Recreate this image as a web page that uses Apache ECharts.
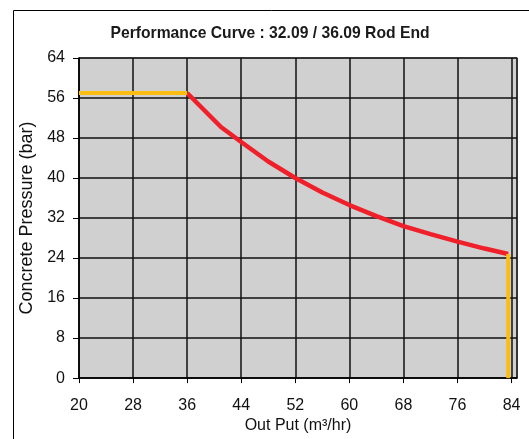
<!DOCTYPE html>
<html><head><meta charset="utf-8">
<script src="https://cdn.jsdelivr.net/npm/echarts@6/dist/echarts.min.js"></script>
<style>html,body{margin:0;padding:0;background:#fff}#c{width:529px;height:439px}</style>
</head><body><div id="c"></div>
<script>
const titleText = 'Performance Curve : 32.09 / 36.09 Rod End';
const xName = 'Out Put (m³/hr)';
const yName = 'Concrete Pressure (bar)';
const curveX = [36, 41, 44, 48, 52, 56, 60, 64, 68, 72, 76, 80, 83.5];
const curveY = [57, 50.2, 47.2, 43.3, 40, 37.1, 34.6, 32.4, 30.4, 28.8, 27.3, 25.9, 24.8];
const limitTopX = [20, 36];
const limitTopY = [57, 57];
const limitRightX = [83.5, 83.5];
const limitRightY = [24.8, 0];

const pairs = (xs, ys) => xs.map((x, i) => [x, ys[i]]);
const chart = echarts.init(document.getElementById('c'), null, {renderer: 'canvas'});
const font = 'Liberation Sans, Arial, sans-serif';
chart.setOption({
  animation: false,
  backgroundColor: '#fff',
  graphic: [{type: 'rect', shape: {x: 13.5, y: 10.5, width: 600, height: 600}, style: {fill: 'none', stroke: '#000', lineWidth: 1}, z: -1}],
  title: {text: titleText, left: 265, top: 21, textAlign: 'center',
    textStyle: {fontFamily: font, fontSize: 15.7, fontWeight: 'bold', color: '#1a1a1a'}},
  grid: {left: 79, top: 58, right: 12, bottom: 58, show: true, backgroundColor: '#d0d0d0', borderColor: '#8a8a8a', borderWidth: 1.5},
  xAxis: {type: 'value', min: 20, max: 84.8, interval: 8,
    name: xName, nameLocation: 'middle', nameGap: 33,
    nameTextStyle: {fontFamily: font, fontSize: 16, color: '#111'},
    axisLine: {show: true, lineStyle: {color: '#000', width: 1.5}},
    axisTick: {show: true, length: 5, lineStyle: {color: '#000'}},
    axisLabel: {fontFamily: font, fontSize: 16, color: '#111', margin: 19, showMaxLabel: false,
      formatter: v => (v % 4 === 0) ? String(v) : ''},
    splitLine: {show: true, lineStyle: {color: '#111', width: 1.5}}},
  yAxis: {type: 'value', min: 0, max: 64, interval: 8,
    name: yName, nameLocation: 'middle', nameGap: 34,
    nameTextStyle: {fontFamily: font, fontSize: 18, color: '#111'},
    axisLine: {show: true, lineStyle: {color: '#000', width: 1.5}},
    axisTick: {show: true, length: 6, lineStyle: {color: '#000'}},
    axisLabel: {fontFamily: font, fontSize: 16, color: '#111', margin: 14},
    splitLine: {show: true, lineStyle: {color: '#111', width: 1.5}}},
  series: [
    {type: 'line', data: pairs(curveX, curveY), symbol: 'none', lineStyle: {color: '#f0202a', width: 4.5}, z: 3},
    {type: 'line', data: pairs(limitTopX, limitTopY), symbol: 'none', lineStyle: {color: '#fbbd12', width: 4}, z: 4},
    {type: 'line', data: pairs(limitRightX, limitRightY), symbol: 'none', lineStyle: {color: '#fbbd12', width: 4}, z: 4}
  ]
});
</script></body></html>
